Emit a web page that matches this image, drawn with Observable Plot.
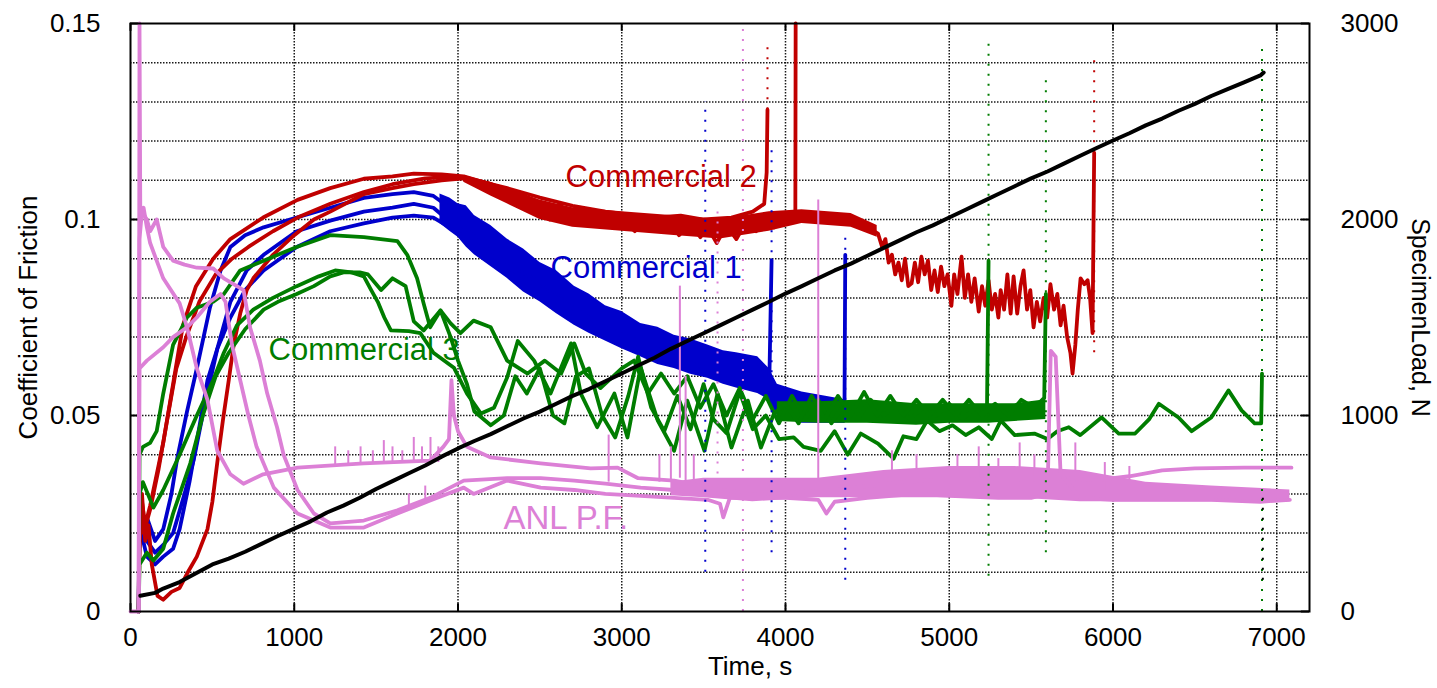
<!DOCTYPE html>
<html><head><meta charset="utf-8">
<script src="https://cdn.jsdelivr.net/npm/d3@7"></script>
<script src="https://cdn.jsdelivr.net/npm/@observablehq/plot@0.6"></script>
<style>body{margin:0;background:#fff;}</style>
</head><body><div id="chart"></div>
<script>
// ---------- tick values ----------
const xTicks = [0,1000,2000,3000,4000,5000,6000,7000];
const xGrid = [1000,2000,3000,4000,5000,6000,7000];
const yTicks = [0,0.05,0.1,0.15];
const yTickLabels = ["0","0.05","0.1","0.15"];
const yGrid = [0.01,0.02,0.03,0.04,0.05,0.06,0.07,0.08,0.09,0.1,0.11,0.12,0.13,0.14];
const loadTicks = [0,1000,2000,3000];
const loadMax = 3000, cofMax = 0.15;

// ---------- Commercial 1 (blue), [time s, COF] ----------
const blue1 = [[50,0],[55,0.03],[75,0.022],[100,0.024],[150,0.018],[200,0.021],[250,0.03],[285,0.039],[345,0.051],[405,0.062],[485,0.0775],[550,0.087],[610,0.093],[700,0.096],[813,0.098],[1015,0.1005],[1220,0.103],[1425,0.1055],[1600,0.1065],[1730,0.107],[1850,0.106],[1950,0.103],[2100,0.097],[2300,0.0895],[2500,0.0837],[2710,0.0775],[2900,0.0725],[3100,0.069],[3300,0.0655],[3450,0.063],[3510,0.062]];
const blue2 = [[50,0],[55,0.025],[100,0.018],[150,0.015],[200,0.017],[260,0.02],[330,0.03],[385,0.0385],[445,0.051],[530,0.067],[610,0.079],[710,0.087],[813,0.091],[1015,0.097],[1220,0.0997],[1425,0.102],[1600,0.103],[1730,0.104],[1850,0.103],[1935,0.1],[2100,0.095],[2300,0.089],[2500,0.083],[2710,0.077],[2915,0.072],[3115,0.068],[3320,0.0645],[3525,0.062],[3725,0.059],[3850,0.058],[3900,0.056],[3915,0.0896]];
const blue3 = [[50,0],[55,0.022],[100,0.014],[150,0.012],[200,0.014],[260,0.016],[300,0.021],[360,0.033],[420,0.047],[470,0.059],[530,0.067],[610,0.075],[700,0.082],[813,0.087],[1015,0.093],[1220,0.097],[1425,0.099],[1600,0.1005],[1730,0.101],[1850,0.1005],[1950,0.098],[2100,0.094],[2300,0.088],[2500,0.0825],[2710,0.076],[2915,0.071],[3115,0.067],[3320,0.0635],[3525,0.061],[3725,0.058],[3850,0.063],[3900,0.058],[3950,0.054],[4000,0.052],[4050,0.055],[4100,0.0505],[4150,0.053],[4200,0.0495],[4250,0.054],[4300,0.0495],[4340,0.052],[4360,0.05],[4365,0.091]];
// noisy blue envelope [time, low, high]
const blueBand = [[1890,0.099,0.1065],[1950,0.097,0.1055],[2000,0.0955,0.104],[2050,0.093,0.1035],[2100,0.091,0.101],[2200,0.088,0.0985],[2300,0.085,0.095],[2400,0.0815,0.0925],[2500,0.079,0.089],[2600,0.076,0.087],[2710,0.073,0.083],[2800,0.071,0.081],[2900,0.069,0.078],[3000,0.067,0.0765],[3115,0.065,0.0735],[3220,0.063,0.0725],[3320,0.062,0.0705],[3420,0.0605,0.0695],[3525,0.0595,0.068],[3620,0.058,0.0665],[3700,0.057,0.066],[3830,0.0556,0.065],[3900,0.054,0.062],[3950,0.05,0.058],[4100,0.048,0.056],[4365,0.048,0.054]];

// ---------- Commercial 2 (red) ----------
const red1 = [[50,0],[55,0.02],[70,0.028],[90,0.022],[120,0.027],[160,0.035],[200,0.043],[260,0.058],[320,0.073],[400,0.083],[505,0.09],[610,0.095],[810,0.1005],[1020,0.105],[1220,0.108],[1425,0.1104],[1600,0.111],[1730,0.1117],[1900,0.1115],[2035,0.111],[2200,0.109],[2300,0.108],[2500,0.1056],[2700,0.1035],[2900,0.102],[3000,0.1015],[3200,0.1005],[3360,0.101],[3500,0.1],[3670,0.1005],[3800,0.102],[3870,0.104],[3885,0.112],[3890,0.128]];
const red2 = [[50,0],[55,0.016],[70,0.03],[90,0.018],[110,0.022],[130,0.012],[165,0.004],[200,0.003],[250,0.005],[300,0.006],[350,0.01],[405,0.014],[470,0.021],[500,0.028],[530,0.038],[565,0.049],[600,0.059],[630,0.068],[670,0.076],[710,0.082],[750,0.085],[870,0.091],[1000,0.096],[1120,0.1],[1220,0.102],[1425,0.1065],[1600,0.108],[1730,0.109],[1900,0.11],[2035,0.1105],[2200,0.109],[2300,0.107],[2400,0.105],[2500,0.103],[2560,0.1],[2620,0.104],[2700,0.0995],[2760,0.102],[2830,0.0985],[2900,0.1015],[2960,0.098],[3010,0.1],[3080,0.097],[3150,0.1],[3220,0.0975],[3280,0.1005],[3350,0.096],[3420,0.099],[3480,0.0955],[3525,0.098],[3580,0.094],[3640,0.0985],[3700,0.095],[3760,0.0995],[3820,0.097],[3870,0.1005],[3930,0.098],[4000,0.1015],[4060,0.1],[4062,0.15]];
const red3 = [[50,0],[55,0.03],[80,0.02],[120,0.026],[170,0.036],[220,0.048],[280,0.062],[340,0.07],[420,0.079],[520,0.086],[620,0.09],[720,0.093],[870,0.097],[1020,0.1005],[1220,0.104],[1425,0.107],[1600,0.109],[1800,0.1105],[2000,0.111],[2200,0.109],[2400,0.106],[2505,0.1035],[2600,0.102],[2710,0.1005],[2800,0.102],[2900,0.099],[3010,0.1],[3120,0.0975],[3200,0.1],[3320,0.098],[3420,0.0995],[3525,0.0965],[3600,0.0985],[3700,0.0975],[3780,0.1],[3850,0.0997],[3950,0.1015],[4050,0.1],[4150,0.1015],[4260,0.1005],[4360,0.0995],[4460,0.099],[4565,0.0964],[4590,0.093],[4610,0.095],[4630,0.089],[4650,0.091],[4670,0.086],[4690,0.089],[4710,0.0845],[4730,0.09],[4750,0.083],[4770,0.0837],[4790,0.089],[4810,0.084],[4830,0.0905],[4850,0.086],[4870,0.0895],[4890,0.082],[4910,0.087],[4930,0.0815],[4950,0.088],[4970,0.083],[4990,0.086],[5013,0.078],[5030,0.086],[5050,0.081],[5075,0.0905],[5095,0.08],[5115,0.086],[5135,0.079],[5155,0.085],[5180,0.0765],[5200,0.083],[5220,0.078],[5240,0.0845],[5260,0.077],[5280,0.081],[5300,0.075],[5314,0.082],[5335,0.077],[5355,0.086],[5375,0.076],[5393,0.0855],[5415,0.076],[5435,0.083],[5454,0.087],[5475,0.077],[5495,0.082],[5515,0.0725],[5535,0.079],[5555,0.074],[5576,0.08],[5598,0.075],[5618,0.0835],[5640,0.077],[5660,0.081],[5680,0.073],[5698,0.078],[5720,0.07],[5740,0.066],[5753,0.0607],[5770,0.068],[5785,0.077],[5802,0.085],[5825,0.0835],[5845,0.0845],[5860,0.08],[5875,0.071],[5885,0.117]];
// noisy red envelope [time, low, high]
const redBand = [[2035,0.1095,0.1112],[2200,0.106,0.1095],[2300,0.104,0.108],[2500,0.1,0.105],[2700,0.098,0.103],[3000,0.097,0.102],[3300,0.096,0.101],[3600,0.095,0.1],[3900,0.097,0.102],[4100,0.099,0.1025],[4400,0.098,0.1015],[4560,0.0955,0.0985]];

// ---------- Commercial 3 (green) ----------
const green1 = [[50,0],[55,0.04],[76,0.042],[120,0.043],[160,0.046],[200,0.0556],[260,0.068],[345,0.075],[405,0.0775],[505,0.079],[570,0.081],[670,0.087],[813,0.0895],[1015,0.093],[1220,0.096],[1425,0.0955],[1630,0.0945],[1690,0.091],[1750,0.085],[1790,0.0786],[1830,0.0725],[1893,0.0768],[1955,0.0735],[2015,0.071],[2095,0.0742],[2200,0.0725],[2300,0.064],[2425,0.0607],[2530,0.064],[2630,0.0607],[2710,0.0684],[2780,0.0607],[2870,0.057],[3000,0.062],[3075,0.064],[3160,0.0556],[3240,0.0607],[3320,0.0556],[3400,0.06],[3480,0.052],[3560,0.058],[3640,0.05],[3720,0.057],[3800,0.049],[3880,0.055],[3960,0.048],[4040,0.055],[4120,0.049],[4200,0.054],[4280,0.048],[4360,0.053],[4440,0.049],[4520,0.054],[4600,0.05],[4680,0.053],[4760,0.049],[4840,0.052],[4920,0.05],[5000,0.053],[5080,0.049],[5160,0.052],[5230,0.05],[5240,0.0895]];
const green2 = [[50,0],[55,0.03],[76,0.033],[140,0.0265],[200,0.031],[300,0.04],[405,0.05],[505,0.059],[570,0.066],[650,0.073],[750,0.077],[870,0.08],[1015,0.083],[1150,0.0855],[1250,0.087],[1350,0.0865],[1425,0.0855],[1470,0.082],[1510,0.079],[1550,0.075],[1590,0.0717],[1700,0.0715],[1770,0.071],[1850,0.066],[1975,0.0622],[2055,0.0556],[2140,0.0505],[2220,0.052],[2300,0.0597],[2365,0.069],[2465,0.064],[2565,0.0556],[2690,0.0684],[2750,0.0556],[2850,0.047],[2955,0.0556],[3035,0.0444],[3115,0.0622],[3220,0.0487],[3320,0.041],[3400,0.0538],[3505,0.041],[3585,0.0556],[3670,0.0418],[3770,0.0538],[3850,0.0418],[3930,0.0505],[4000,0.053],[4080,0.048],[4160,0.055],[4240,0.049],[4320,0.055],[4400,0.05],[4480,0.056],[4560,0.05],[4640,0.055],[4720,0.05],[4800,0.054],[4880,0.05],[4960,0.054],[5040,0.05],[5120,0.054],[5200,0.05],[5280,0.053],[5360,0.05],[5440,0.054],[5520,0.052],[5580,0.0545],[5590,0.081]];
const green3 = [[50,0],[55,0.012],[100,0.015],[140,0.013],[200,0.016],[260,0.025],[365,0.0378],[445,0.0505],[520,0.06],[600,0.066],[700,0.072],[813,0.077],[900,0.079],[1015,0.081],[1120,0.083],[1220,0.0855],[1300,0.0865],[1400,0.0865],[1450,0.086],[1530,0.082],[1600,0.085],[1680,0.083],[1730,0.074],[1790,0.0717],[1893,0.0768],[1955,0.07],[2000,0.064],[2055,0.058],[2100,0.051],[2200,0.0475],[2280,0.05],[2350,0.06],[2420,0.0556],[2500,0.062],[2580,0.05],[2650,0.048],[2720,0.06],[2800,0.062],[2880,0.05],[2960,0.0444],[3040,0.055],[3100,0.065],[3180,0.052],[3260,0.046],[3340,0.055],[3420,0.0465],[3500,0.058],[3560,0.049],[3640,0.0455],[3720,0.056],[3800,0.0465],[3880,0.05],[3960,0.044],[4050,0.0444],[4110,0.042],[4215,0.041],[4300,0.046],[4380,0.04],[4460,0.0454],[4565,0.0428],[4660,0.039],[4720,0.0447],[4800,0.044],[4865,0.0487],[4940,0.046],[5020,0.0475],[5100,0.045],[5180,0.047],[5260,0.044],[5315,0.0487],[5400,0.045],[5520,0.0454],[5600,0.044],[5660,0.046],[5730,0.047],[5800,0.045],[5930,0.0495],[6035,0.0454],[6135,0.0454],[6220,0.049],[6280,0.053],[6400,0.0495],[6480,0.046],[6600,0.0495],[6705,0.0564],[6785,0.0513],[6865,0.048],[6905,0.048],[6910,0.0607]];
// noisy green envelope [time, low, high]
const greenBand = [[3950,0.0485,0.0535],[4200,0.048,0.0535],[4500,0.048,0.054],[4800,0.0475,0.053],[5000,0.048,0.053],[5240,0.048,0.053],[5400,0.0485,0.053],[5590,0.049,0.054]];

// ---------- ANL P.F. (pink) ----------
const pink1 = [[0,0],[50,0],[55,0.15],[60,0.1],[80,0.103],[100,0.098],[120,0.094],[200,0.085],[300,0.0786],[345,0.0725],[405,0.062],[470,0.054],[530,0.041],[610,0.035],[690,0.0326],[810,0.035],[1020,0.0367],[1425,0.0378],[1830,0.0385],[1910,0.042],[1945,0.044],[1960,0.059],[1975,0.05],[2000,0.046],[2055,0.042],[2200,0.0393],[2505,0.0378],[2810,0.0365],[2975,0.0367],[3100,0.034],[3320,0.0334],[3500,0.032],[3600,0.031],[3700,0.0305],[3740,0.03]];
const pink2 = [[50,0],[55,0.095],[70,0.102],[100,0.1],[120,0.097],[160,0.1],[200,0.093],[260,0.0895],[330,0.0885],[405,0.0877],[505,0.0875],[570,0.085],[650,0.083],[690,0.082],[730,0.0725],[790,0.064],[835,0.0556],[895,0.047],[935,0.04],[1020,0.031],[1120,0.025],[1220,0.0225],[1425,0.0232],[1630,0.0258],[1830,0.029],[2035,0.0334],[2300,0.034],[2505,0.034],[2710,0.0334],[2900,0.0326],[3115,0.0316],[3320,0.031],[3525,0.03],[3700,0.0296],[3900,0.03],[4100,0.0305],[4300,0.031],[4500,0.032],[4700,0.033],[4900,0.0335],[5100,0.0335],[5300,0.034],[5500,0.034],[5700,0.034],[5900,0.0335],[6000,0.034],[6100,0.0345],[6300,0.036],[6500,0.0365],[6800,0.0367],[7090,0.0367]];
const pink3 = [[50,0],[55,0.062],[100,0.064],[200,0.0674],[260,0.07],[345,0.0725],[405,0.075],[485,0.079],[550,0.081],[580,0.079],[620,0.068],[670,0.059],[720,0.05],[770,0.042],[875,0.0316],[1020,0.025],[1220,0.0214],[1425,0.0214],[1630,0.025],[1830,0.0283],[2035,0.0316],[2095,0.03],[2300,0.0334],[2505,0.0316],[2710,0.031],[2900,0.03],[3115,0.0295],[3320,0.029],[3525,0.0285],[3600,0.0275],[3620,0.024],[3660,0.029],[4000,0.029],[4200,0.0285],[4250,0.025],[4300,0.028],[4500,0.029],[4800,0.03],[5000,0.0295],[5300,0.029],[5500,0.029],[5600,0.03],[5620,0.0665],[5650,0.065],[5680,0.035],[5800,0.029],[6000,0.0285],[6300,0.0285],[6600,0.0285],[6900,0.028],[7080,0.0285]];
const pinkBand = [[3300,0.0295,0.033],[3500,0.029,0.034],[3800,0.028,0.034],[4200,0.029,0.034],[4600,0.029,0.036],[5000,0.029,0.037],[5400,0.029,0.037],[5800,0.028,0.036],[6200,0.028,0.033],[6600,0.028,0.032],[7080,0.028,0.031]];
// narrow upward noise spikes [time, base, top]
const pinkSpikes = [[1250,0.037,0.042],[1330,0.037,0.041],[1405,0.038,0.042],[1480,0.038,0.041],[1547,0.038,0.0436],[1600,0.038,0.042],[1660,0.038,0.041],[1730,0.038,0.0444],[1780,0.038,0.042],[1832,0.038,0.0444],[1880,0.038,0.042],[1700,0.026,0.03],[1800,0.028,0.032],[2920,0.033,0.045],[3230,0.033,0.04],[3300,0.033,0.042],[3355,0.034,0.083],[3390,0.033,0.06],[3440,0.032,0.04],[4200,0.03,0.105],[4650,0.033,0.041],[4800,0.033,0.04],[5050,0.033,0.04],[5180,0.033,0.042],[5300,0.033,0.039],[5430,0.033,0.043],[5520,0.033,0.04],[5770,0.033,0.043],[5950,0.031,0.038],[6100,0.031,0.037]];

// ---------- Specimen load (black), [time s, N] ----------
const load = [[60,80],[150,95],[200,117],[300,150],[400,195],[500,240],[600,270],[700,305],[800,345],[900,385],[1000,423],[1100,460],[1200,505],[1300,540],[1400,580],[1500,625],[1600,665],[1700,705],[1800,745],[1900,790],[2000,832],[2100,870],[2200,905],[2300,945],[2400,985],[2500,1020],[2600,1060],[2700,1100],[2800,1135],[2900,1175],[3000,1214],[3100,1255],[3200,1295],[3300,1340],[3400,1380],[3500,1420],[3600,1460],[3700,1500],[3800,1540],[3900,1580],[4000,1622],[4100,1660],[4200,1700],[4300,1740],[4400,1775],[4500,1815],[4600,1855],[4700,1895],[4800,1935],[4900,1970],[5000,2010],[5100,2050],[5200,2090],[5300,2130],[5400,2170],[5500,2210],[5600,2245],[5700,2285],[5800,2325],[5900,2365],[6000,2403],[6100,2440],[6200,2480],[6300,2515],[6400,2555],[6500,2590],[6600,2630],[6700,2665],[6800,2700],[6900,2735],[6920,2750]];

// ---------- end-of-test jumps (sparse samples) ----------
const jumpTime   = [3510,3890,3915,4060,4365,3585,3740,5240,5590,5885,6910,6915];
const jumpLow    = [0.01,0.128,0.015,0.1,0.008,0.03,0,0.009,0.015,0.066,0.0,0.008];
const jumpHigh   = [0.13,0.145,0.118,0.15,0.096,0.103,0.15,0.145,0.136,0.142,0.145,0.03];
const jumpSeries = ["c1","c2","c1","c2","c1","pf","pf","c3","c3","c2","c3","load"];

const colors = {c1:"#0000cc", c2:"#c00000", c3:"#007d00", pf:"#dc80d6", load:"#000000"};
const jumps = jumpTime.map((t,i)=>({t, lo:jumpLow[i], hi:jumpHigh[i], s:jumpSeries[i]}));
const L2C = cofMax/loadMax;
const X = d=>d[0], Y = d=>d[1];
const lw = 3.8;

const chart = Plot.plot({
  width:1437, height:688,
  marginLeft:130, marginRight:128, marginTop:23, marginBottom:77,
  x:{domain:[0,7200]},
  y:{domain:[0,0.15]},
  style:{fontFamily:"'Liberation Sans', Arial, sans-serif", fontSize:"26px", color:"#000", background:"#fff"},
  marks:[
    Plot.gridY(yGrid, {stroke:"#000", strokeOpacity:0.9, strokeWidth:1.5, strokeDasharray:"1.5,1.5"}),
    Plot.gridX(xGrid, {stroke:"#000", strokeOpacity:0.9, strokeWidth:1.5, strokeDasharray:"1.5,1.5"}),
    // inner ticks
    Plot.ruleX(xTicks, {y1:0, y2:0.002, stroke:"#000", strokeWidth:2}),
    Plot.ruleX(xTicks, {y1:0.148, y2:0.15, stroke:"#000", strokeWidth:2}),
    Plot.ruleY(yTicks, {x1:0, x2:50, stroke:"#000", strokeWidth:2}),
    Plot.ruleY(loadTicks.map(d=>d*L2C), {x1:7150, x2:7200, stroke:"#000", strokeWidth:2}),
    // blue
    Plot.areaY(blueBand, {x:X, y1:d=>d[1], y2:d=>d[2], fill:colors.c1}),
    Plot.line(blue1, {x:X, y:Y, stroke:colors.c1, strokeWidth:lw}),
    Plot.line(blue2, {x:X, y:Y, stroke:colors.c1, strokeWidth:lw}),
    Plot.line(blue3, {x:X, y:Y, stroke:colors.c1, strokeWidth:lw}),
    // red
    Plot.areaY(redBand, {x:X, y1:d=>d[1], y2:d=>d[2], fill:colors.c2}),
    Plot.line(red1, {x:X, y:Y, stroke:colors.c2, strokeWidth:lw}),
    Plot.line(red2, {x:X, y:Y, stroke:colors.c2, strokeWidth:lw}),
    Plot.line(red3, {x:X, y:Y, stroke:colors.c2, strokeWidth:lw}),
    // green
    Plot.areaY(greenBand, {x:X, y1:d=>d[1], y2:d=>d[2], fill:colors.c3}),
    Plot.line(green1, {x:X, y:Y, stroke:colors.c3, strokeWidth:lw}),
    Plot.line(green2, {x:X, y:Y, stroke:colors.c3, strokeWidth:lw}),
    Plot.line(green3, {x:X, y:Y, stroke:colors.c3, strokeWidth:lw}),
    // pink
    Plot.areaY(pinkBand, {x:X, y1:d=>d[1], y2:d=>d[2], fill:colors.pf}),
    Plot.ruleX(pinkSpikes, {x:X, y1:d=>d[1], y2:d=>d[2], stroke:colors.pf, strokeWidth:2}),
    Plot.line(pink1, {x:X, y:Y, stroke:colors.pf, strokeWidth:lw}),
    Plot.line(pink2, {x:X, y:Y, stroke:colors.pf, strokeWidth:lw}),
    Plot.line(pink3, {x:X, y:Y, stroke:colors.pf, strokeWidth:lw}),
    // jumps
    Plot.ruleX(jumps, {x:"t", y1:"lo", y2:"hi", stroke:d=>colors[d.s], strokeWidth:2, strokeDasharray:"2,8"}),
    // load
    Plot.line(load, {x:X, y:d=>d[1]*L2C, stroke:"#000", strokeWidth:4}),
    // series labels
    Plot.text(["Commercial 2"], {x:2657, y:0.1107, textAnchor:"start", fontSize:31, fill:colors.c2}),
    Plot.text(["Commercial 1"], {x:2565, y:0.0875, textAnchor:"start", fontSize:31, fill:colors.c1}),
    Plot.text(["Commercial 3"], {x:843, y:0.0668, textAnchor:"start", fontSize:31, fill:colors.c3}),
    Plot.text(["ANL P.F."], {x:2278, y:0.0237, textAnchor:"start", fontSize:33, fill:colors.pf}),
    // frame and axes
    Plot.frame({stroke:"#000", strokeWidth:2}),
    Plot.axisX(xTicks, {anchor:"bottom", tickSize:0, tickPadding:16, fontSize:26, label:null, tickFormat:d=>String(d)}),
    Plot.axisY(yTicks, {anchor:"left", tickSize:0, tickPadding:30, fontSize:26, label:null, tickFormat:d=>yTickLabels[yTicks.indexOf(d)]}),
    Plot.axisY(loadTicks.map(d=>d*L2C), {anchor:"right", tickSize:0, tickPadding:31, fontSize:26, label:null, tickFormat:d=>String(loadTicks[Math.round(d/L2C/1000)])}),
    Plot.text(["Time, s"], {frameAnchor:"bottom", dx:30, dy:63, fontSize:26}),
    Plot.text(["Coefficient of Friction"], {frameAnchor:"left", textAnchor:"middle", dx:-102, rotate:-90, fontSize:26}),
    Plot.text(["SpecimenLoad, N"], {frameAnchor:"right", textAnchor:"middle", dx:110, rotate:90, fontSize:25})
  ]
});
document.getElementById("chart").appendChild(chart);
</script>
</body></html>
